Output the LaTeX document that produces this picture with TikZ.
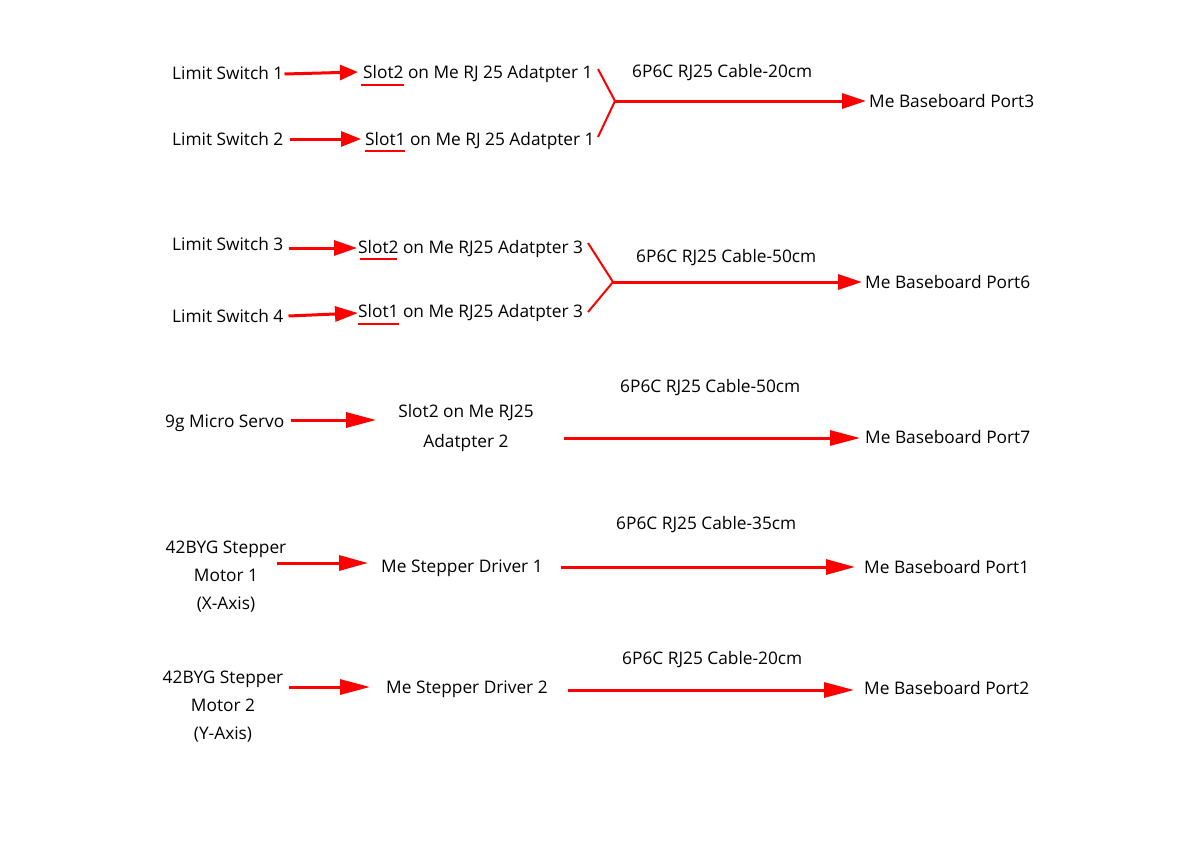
\documentclass[tikz,border=0pt]{standalone}
\usepackage{fontspec}
\setmainfont{Open Sans}
\usetikzlibrary{arrows.meta,calc}
\tikzset{
  mlbl/.style={inner sep=0pt,font=\fontsize{17.3}{28}\selectfont,text=black},
  lbl/.style={mlbl,text height=12.4pt,text depth=0pt},
  conn/.style={red,line width=3pt},
  fork/.style={red,line width=2pt},
  uline/.style={red,line width=1.8pt},
}
\newcommand{\tip}[1]{-{Triangle[length=#1,width=15pt]}}
\begin{document}
\begin{tikzpicture}[x=1pt,y=-1pt]
\useasboundingbox (0,0) rectangle (1189,841);
\fill[white] (0,0) rectangle (1189,841);

% ---------- Section 1 ----------
\node[lbl,anchor=west] (ls1) at (172,73) {Limit Switch 1};
\node[lbl,anchor=west] (ls2) at (172,139) {Limit Switch 2};
\node[lbl,anchor=west] (sa1) at (363,72) {Slot2 on Me RJ 25 Adatpter 1};
\node[lbl,anchor=west] (sb1) at (365,139) {Slot1 on Me RJ 25 Adatpter 1};
\node[lbl,anchor=west] (c1) at (632,71) {6P6C RJ25 Cable-20cm};
\node[lbl,anchor=west] (p3) at (869,101) {Me Baseboard Port3};
\coordinate (f1) at (615,101);
\coordinate (f1a) at (598,69);
\coordinate (f1b) at (598,137);
\draw[conn,\tip{18pt}] ([xshift=1pt,yshift=-1pt]ls1.east) -- ([xshift=-5pt]sa1.west);
\draw[conn,\tip{20pt}] ([xshift=6pt]ls2.east) -- ([xshift=-4pt]sb1.west);
\draw[fork] (f1a) -- (f1) -- (f1b);
\draw[conn,\tip{24pt}] (f1) -- ([xshift=-3pt]p3.west);
\draw[uline] (361,85) -- (404,85);
\draw[uline] (365,151) -- (405,151);

% ---------- Section 2 ----------
\node[lbl,anchor=west] (ls3) at (172,244) {Limit Switch 3};
\node[lbl,anchor=west] (ls4) at (172,316) {Limit Switch 4};
\node[lbl,anchor=west] (sa3) at (358,247) {Slot2 on Me RJ25 Adatpter 3};
\node[lbl,anchor=west] (sb3) at (358,311) {Slot1 on Me RJ25 Adatpter 3};
\node[lbl,anchor=west] (c2) at (636,256) {6P6C RJ25 Cable-50cm};
\node[lbl,anchor=west] (p6) at (865,282) {Me Baseboard Port6};
\coordinate (f2) at (613,282);
\coordinate (f2a) at (588,243);
\coordinate (f2b) at (588,312);
\draw[conn,\tip{23pt}] ([xshift=5pt,yshift=-4pt]ls3.east) -- ([xshift=-1pt,yshift=-1pt]sa3.west);
\draw[conn,\tip{23pt}] ([xshift=5pt]ls4.east) -- ([yshift=-2pt]sb3.west);
\draw[fork] (f2a) -- (f2) -- (f2b);
\draw[conn,\tip{24pt}] (f2) -- ([xshift=-3pt]p6.west);
\draw[uline] (360,259) -- (397,259);
\draw[uline] (358,324) -- (399,324);

% ---------- Section 3 ----------
\node[lbl,anchor=west] (sv) at (165,421) {9g Micro Servo};
\node[mlbl,align=center] (sa2) at (466,428) {Slot2 on Me RJ25\\[2pt]Adatpter 2};
\node[lbl,anchor=west] (c3) at (620,386) {6P6C RJ25 Cable-50cm};
\node[lbl,anchor=west] (p7) at (865,437) {Me Baseboard Port7};
\coordinate (s3s) at (564,438);
\draw[conn,\tip{30pt}] ([xshift=6pt,yshift=1pt]sv.east) -- ([xshift=-22pt,yshift=8pt]sa2.west);
\draw[conn,\tip{30pt}] (s3s) -- ([xshift=-5pt,yshift=-1pt]p7.west);

% ---------- Section 4 ----------
\node[mlbl,align=center] (m1) at (226,577) {42BYG Stepper\\Motor 1\\(X-Axis)};
\node[lbl,anchor=west] (d1) at (381,566) {Me Stepper Driver 1};
\node[lbl,anchor=west] (c4) at (616,523) {6P6C RJ25 Cable-35cm};
\node[lbl,anchor=west] (p1) at (864,567) {Me Baseboard Port1};
\coordinate (m1e) at (277,563);
\draw[conn,\tip{29pt}] (m1e) -- ([xshift=-13pt,yshift=3pt]d1.west);
\draw[conn,\tip{29pt}] ([xshift=18pt,yshift=-1pt]d1.east) -- ([xshift=-9pt]p1.west);

% ---------- Section 5 ----------
\node[mlbl,align=center] (m2) at (223,707) {42BYG Stepper\\Motor 2\\(Y-Axis)};
\node[lbl,anchor=west] (d2) at (386,687) {Me Stepper Driver 2};
\node[lbl,anchor=west] (c5) at (622,658) {6P6C RJ25 Cable-20cm};
\node[lbl,anchor=west] (p2) at (864,688) {Me Baseboard Port2};
\coordinate (m2e) at (289,687);
\draw[conn,\tip{30pt}] (m2e) -- ([xshift=-16pt]d2.west);
\draw[conn,\tip{30pt}] ([xshift=20pt,yshift=-3pt]d2.east) -- ([xshift=-10pt,yshift=-2pt]p2.west);
\end{tikzpicture}
\end{document}
